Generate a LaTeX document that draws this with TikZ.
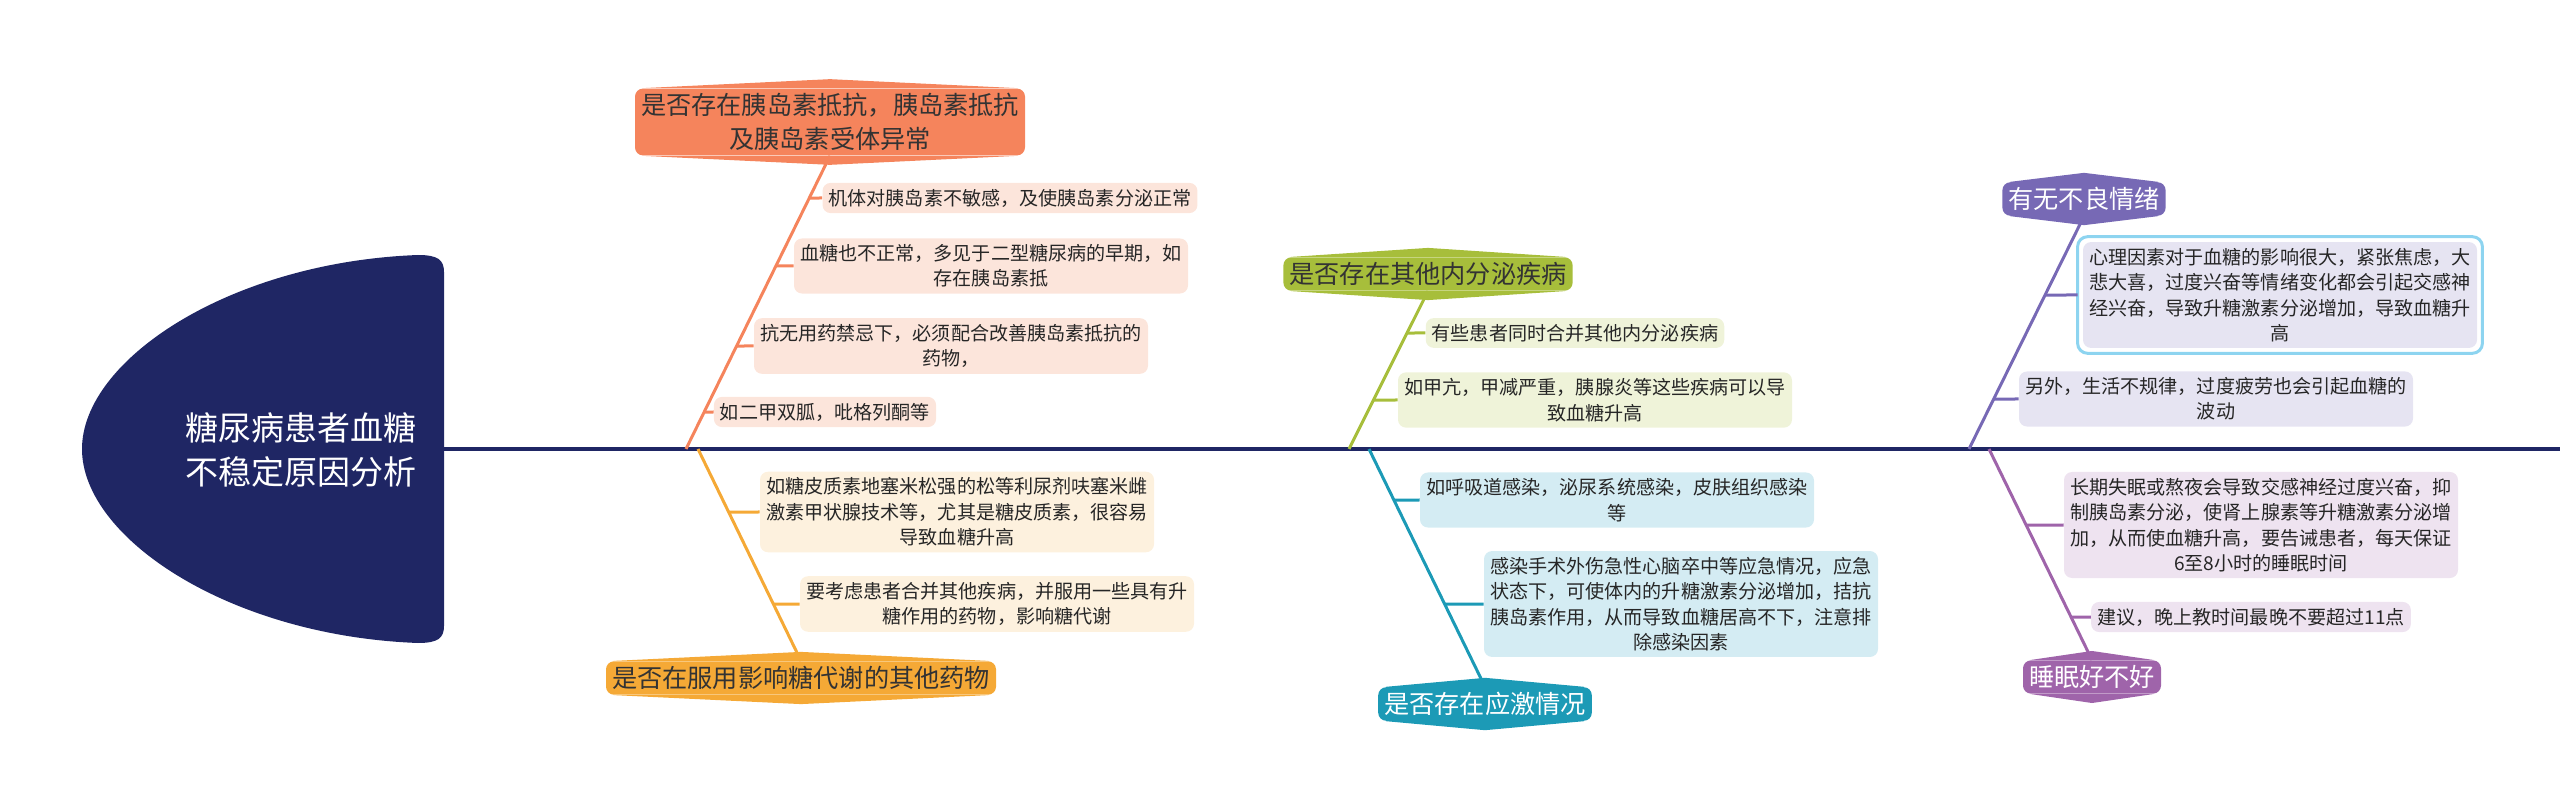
\documentclass[tikz,border=0pt]{standalone}
\usepackage{fontspec}
\newfontfamily\cjk{Noto Sans CJK SC}
\usetikzlibrary{calc}

\begin{document}
\begin{tikzpicture}[x=0.5pt, y=-0.5pt, font=\cjk]

		% --- Colori ---
		\definecolor{navy}{HTML}{1F2664}
		\definecolor{oraC}{HTML}{F5845C}
		\definecolor{oraL}{HTML}{FCE5DB}
		\definecolor{yelC}{HTML}{F5A936}
		\definecolor{yelL}{HTML}{FDF1DE}
		\definecolor{grnC}{HTML}{A7BE3B}
		\definecolor{grnL}{HTML}{EFF3D9}
		\definecolor{tealC}{HTML}{1C9AB6}
		\definecolor{tealL}{HTML}{D4ECF3}
		\definecolor{purC}{HTML}{7769B5}
		\definecolor{purL}{HTML}{E6E4F2}
		\definecolor{vioC}{HTML}{9F64AA}
		\definecolor{vioL}{HTML}{EEE3F0}
		\definecolor{selC}{HTML}{8DD4F0}

		% --- Stili ---
		\tikzset{
			spine/.style={draw=navy, line width=2pt},
			bone/.style={draw=#1, line width=1.5pt},
			headtext/.style={text=white, align=center, font=\cjk\fontsize{16.5}{21.7}\selectfont},
			tag/.style={fill=#1, rounded corners=4pt, inner xsep=3pt, inner ysep=2.5pt, align=center,
				font=\cjk\fontsize{12.6}{16.7}\selectfont, append after command={
					\pgfextra{
						\fill[#1] ($(\tikzlastnode.north west)+(4pt,0pt)$) -- ($(\tikzlastnode.north)+(0pt,4.5pt)$) -- ($(\tikzlastnode.north east)+(-4pt,0pt)$) -- cycle;
						\fill[#1] ($(\tikzlastnode.south west)+(4pt,0pt)$) -- ($(\tikzlastnode.south)+(0pt,-4.5pt)$) -- ($(\tikzlastnode.south east)+(-4pt,0pt)$) -- cycle;
					}
			}},
			item/.style={fill=#1, text=black!85, rounded corners=4pt, inner xsep=3pt, inner ysep=3pt, align=center,
				font=\cjk\fontsize{9.55}{12.7}\selectfont},
			selbox/.style={draw=selC, line width=1.5pt, rounded corners=5pt}
		}

		\useasboundingbox (0,0) rectangle (2560,807);

		% --- Testa ---
		\fill[navy] (444,449) -- (444,272) .. controls (444,260) and (438,255) .. (418,255)
			.. controls (230,262) and (82,360) .. (82,449)
			.. controls (82,538) and (230,636) .. (418,643)
			.. controls (438,643) and (444,638) .. (444,626) -- cycle;
		\node[headtext] (head) at (301,450) {糖尿病患者血糖\\不稳定原因分析};

		% --- Spina ---
		\coordinate (H) at (444,449);
		\coordinate (E) at (2560,449);
		\draw[spine] (H) -- (E);

		% --- Giunti sulla spina ---
		\coordinate (J1) at (686,449);
		\coordinate (J2) at (698,449);
		\coordinate (J3) at (1349,449);
		\coordinate (J4) at (1369,449);
		\coordinate (J5) at (1969,449);
		\coordinate (J6) at (1989,449);

		% --- Etichette principali ---
		\node[tag=oraC, text=black!80] (L1) at (830,122) {是否存在胰岛素抵抗，胰岛素抵抗\\及胰岛素受体异常};
		\node[tag=yelC, text=black!80] (L2) at (801,678) {是否在服用影响糖代谢的其他药物};
		\node[tag=grnC, text=black!80] (L3) at (1428,274) {是否存在其他内分泌疾病};
		\node[tag=tealC, text=white] (L4) at (1485,704) {是否存在应激情况};
		\node[tag=purC, text=white] (L5) at (2084,199) {有无不良情绪};
		\node[tag=vioC, text=white] (L6) at (2092,677) {睡眠好不好};

		% --- Lische ---
		\draw[bone=oraC] (L1.south) -- (J1);
		\draw[bone=yelC] (L2.north) -- (J2);
		\draw[bone=grnC] (L3.south) -- (J3);
		\draw[bone=tealC] (L4.north) -- (J4);
		\draw[bone=purC] (L5.south) -- (J5);
		\draw[bone=vioC] (L6.north) -- (J6);

		% --- Voci: insulino-resistenza ---
		\node[item=oraL] (s11) at (1010,198) {机体对胰岛素不敏感，及使胰岛素分泌正常};
		\node[item=oraL] (s12) at (991,266) {血糖也不正常，多见于二型糖尿病的早期，如\\存在胰岛素抵};
		\node[item=oraL] (s13) at (951,346) {抗无用药禁忌下，必须配合改善胰岛素抵抗的\\药物，};
		\node[item=oraL] (s14) at (825,412) {如二甲双胍，吡格列酮等};
		\draw[bone=oraC] (intersection of L1.south--J1 and s11.west--s11.east) -- (s11.west);
		\draw[bone=oraC] (intersection of L1.south--J1 and s12.west--s12.east) -- (s12.west);
		\draw[bone=oraC] (intersection of L1.south--J1 and s13.west--s13.east) -- (s13.west);
		\draw[bone=oraC] (intersection of L1.south--J1 and s14.west--s14.east) -- (s14.west);

		% --- Voci: farmaci ---
		\node[item=yelL] (s21) at (957,512) {如糖皮质素地塞米松强的松等利尿剂呋塞米雌\\激素甲状腺技术等，尤其是糖皮质素，很容易\\导致血糖升高};
		\node[item=yelL] (s22) at (997,604) {要考虑患者合并其他疾病，并服用一些具有升\\糖作用的药物，影响糖代谢};
		\draw[bone=yelC] (intersection of L2.north--J2 and s21.west--s21.east) -- (s21.west);
		\draw[bone=yelC] (intersection of L2.north--J2 and s22.west--s22.east) -- (s22.west);

		% --- Voci: endocrino ---
		\node[item=grnL] (s31) at (1575,333) {有些患者同时合并其他内分泌疾病};
		\node[item=grnL] (s32) at (1595,400) {如甲亢，甲减严重，胰腺炎等这些疾病可以导\\致血糖升高};
		\draw[bone=grnC] (intersection of L3.south--J3 and s31.west--s31.east) -- (s31.west);
		\draw[bone=grnC] (intersection of L3.south--J3 and s32.west--s32.east) -- (s32.west);

		% --- Voci: stress ---
		\node[item=tealL] (s41) at (1617,500) {如呼吸道感染，泌尿系统感染，皮肤组织感染\\等};
		\node[item=tealL] (s42) at (1681,604) {感染手术外伤急性心脑卒中等应急情况，应急\\状态下，可使体内的升糖激素分泌增加，拮抗\\胰岛素作用，从而导致血糖居高不下，注意排\\除感染因素};
		\draw[bone=tealC] (intersection of L4.north--J4 and s41.west--s41.east) -- (s41.west);
		\draw[bone=tealC] (intersection of L4.north--J4 and s42.west--s42.east) -- (s42.west);

		% --- Voci: emozioni ---
		\node[item=purL] (s51) at (2280,295) {心理因素对于血糖的影响很大，紧张焦虑，大\\悲大喜，过度兴奋等情绪变化都会引起交感神\\经兴奋，导致升糖激素分泌增加，导致血糖升\\高};
		\node[item=purL] (s52) at (2216,399) {另外，生活不规律，过度疲劳也会引起血糖的\\波动};
		\draw[selbox] ($(s51.north west)+(-2.5pt,2.5pt)$) rectangle ($(s51.south east)+(2.5pt,-2.5pt)$);
		\draw[bone=purC] (intersection of L5.south--J5 and s51.west--s51.east) -- ($(s51.west)+(-2.5pt,0pt)$);
		\draw[bone=purC] (intersection of L5.south--J5 and s52.west--s52.east) -- (s52.west);

		% --- Voci: sonno ---
		\node[item=vioL] (s61) at (2261,525) {长期失眠或熬夜会导致交感神经过度兴奋，抑\\制胰岛素分泌，使肾上腺素等升糖激素分泌增\\加，从而使血糖升高，要告诫患者，每天保证\\6至8小时的睡眠时间};
		\node[item=vioL] (s62) at (2251,617) {建议，晚上教时间最晚不要超过11点};
		\draw[bone=vioC] (intersection of L6.north--J6 and s61.west--s61.east) -- (s61.west);
		\draw[bone=vioC] (intersection of L6.north--J6 and s62.west--s62.east) -- (s62.west);

	\end{tikzpicture}
\end{document}
